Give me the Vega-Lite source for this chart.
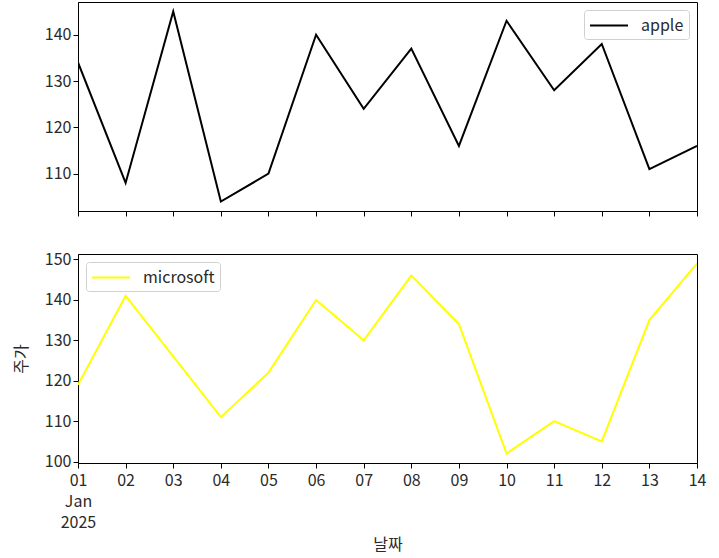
{
  "$schema": "https://vega.github.io/schema/vega-lite/v6.json",
  "padding": {"left": 12, "top": 1, "right": 20, "bottom": 5},
  "background": "white",
  "config": {
    "font": "Noto Sans CJK KR",
    "view": {"stroke": "black", "strokeWidth": 1},
    "axis": {
      "grid": false,
      "domainColor": "black",
      "tickColor": "black",
      "tickSize": 5,
      "labelFont": "Noto Sans CJK KR",
      "labelFontSize": 16,
      "labelColor": "#2a2a2a",
      "titleFont": "Noto Sans CJK KR",
      "titleFontSize": 16,
      "titleFontWeight": "normal",
      "titleColor": "#2a2a2a"
    },
    "legend": {
      "labelFont": "Noto Sans CJK KR",
      "labelFontSize": 16,
      "labelColor": "#2a2a2a",
      "strokeColor": "#d0d0d0",
      "fillColor": "white",
      "cornerRadius": 3,
      "padding": 5,
      "symbolType": "M-1,0H3",
      "symbolStrokeWidth": 2,
      "symbolSize": 361,
      "labelOffset": 31
    }
  },
  "datasets": {
    "stocks": [
      {"date": "2025-01-01", "company": "apple", "price": 134},
      {"date": "2025-01-02", "company": "apple", "price": 108},
      {"date": "2025-01-03", "company": "apple", "price": 145},
      {"date": "2025-01-04", "company": "apple", "price": 104},
      {"date": "2025-01-05", "company": "apple", "price": 110},
      {"date": "2025-01-06", "company": "apple", "price": 140},
      {"date": "2025-01-07", "company": "apple", "price": 124},
      {"date": "2025-01-08", "company": "apple", "price": 137},
      {"date": "2025-01-09", "company": "apple", "price": 116},
      {"date": "2025-01-10", "company": "apple", "price": 143},
      {"date": "2025-01-11", "company": "apple", "price": 128},
      {"date": "2025-01-12", "company": "apple", "price": 138},
      {"date": "2025-01-13", "company": "apple", "price": 111},
      {"date": "2025-01-14", "company": "apple", "price": 116},
      {"date": "2025-01-01", "company": "microsoft", "price": 119},
      {"date": "2025-01-02", "company": "microsoft", "price": 141},
      {"date": "2025-01-03", "company": "microsoft", "price": 126},
      {"date": "2025-01-04", "company": "microsoft", "price": 111},
      {"date": "2025-01-05", "company": "microsoft", "price": 122},
      {"date": "2025-01-06", "company": "microsoft", "price": 140},
      {"date": "2025-01-07", "company": "microsoft", "price": 130},
      {"date": "2025-01-08", "company": "microsoft", "price": 146},
      {"date": "2025-01-09", "company": "microsoft", "price": 134},
      {"date": "2025-01-10", "company": "microsoft", "price": 102},
      {"date": "2025-01-11", "company": "microsoft", "price": 110},
      {"date": "2025-01-12", "company": "microsoft", "price": 105},
      {"date": "2025-01-13", "company": "microsoft", "price": 135},
      {"date": "2025-01-14", "company": "microsoft", "price": 149}
    ]
  },
  "resolve": {"scale": {"color": "independent", "x": "independent", "y": "independent"}},
  "spacing": 33,
  "vconcat": [
    {
      "width": 619,
      "height": 209,
      "data": {"name": "stocks"},
      "transform": [{"filter": "datum.company == 'apple'"}],
      "mark": {"type": "line", "strokeWidth": 2, "clip": true},
      "encoding": {
        "x": {
          "field": "date",
          "type": "temporal",
          "scale": {"type": "utc", "domain": ["2025-01-01", "2025-01-14"]},
          "axis": {"title": null, "labels": false, "tickCount": {"interval": "day", "step": 1}}
        },
        "y": {
          "field": "price",
          "type": "quantitative",
          "scale": {"domain": [101.95, 147.05], "nice": false, "zero": false},
          "axis": {"title": null, "values": [110, 120, 130, 140]}
        },
        "color": {
          "field": "company",
          "type": "nominal",
          "scale": {"domain": ["apple"], "range": ["black"]},
          "legend": {"title": null, "orient": "top-right", "offset": 8}
        }
      }
    },
    {
      "width": 619,
      "height": 209,
      "data": {"name": "stocks"},
      "transform": [{"filter": "datum.company == 'microsoft'"}],
      "mark": {"type": "line", "strokeWidth": 2, "clip": true},
      "encoding": {
        "x": {
          "field": "date",
          "type": "temporal",
          "scale": {"type": "utc", "domain": ["2025-01-01", "2025-01-14"]},
          "axis": {
            "title": "날짜",
            "tickCount": {"interval": "day", "step": 1},
            "labelExpr": "utcdate(datum.value) == 1 ? [utcFormat(datum.value, '%d'), utcFormat(datum.value, '%b'), utcFormat(datum.value, '%Y')] : utcFormat(datum.value, '%d')",
            "labelLineHeight": 21,
            "labelPadding": 4,
            "labelFlush": false,
            "labelAlign": "center",
            "labelOverlap": false,
            "titlePadding": 6
          }
        },
        "y": {
          "field": "price",
          "type": "quantitative",
          "scale": {"domain": [99.65, 151.35], "nice": false, "zero": false},
          "axis": {"title": "주가", "values": [100, 110, 120, 130, 140, 150], "titlePadding": 15}
        },
        "color": {
          "field": "company",
          "type": "nominal",
          "scale": {"domain": ["microsoft"], "range": ["#ffff00"]},
          "legend": {"title": null, "orient": "top-left", "offset": 8}
        }
      }
    }
  ]
}
